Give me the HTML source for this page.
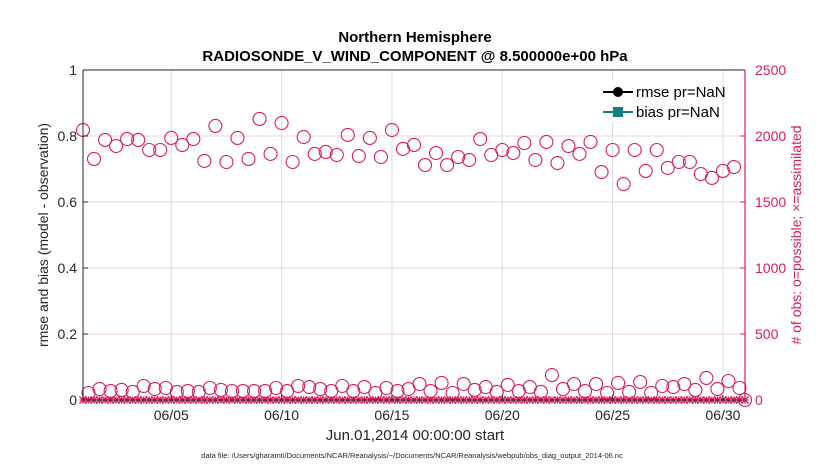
<!DOCTYPE html>
<html><head><meta charset="utf-8"><style>
body{margin:0;background:#fff;}
svg{font-family:"Liberation Sans",sans-serif;}
</style></head><body>
<svg id="c" width="830" height="470" xmlns="http://www.w3.org/2000/svg">
<rect width="830" height="470" fill="#fff"/>
<text x="415" y="42" text-anchor="middle" font-size="15" font-weight="bold">Northern Hemisphere</text>
<text x="415" y="61" text-anchor="middle" font-size="15" font-weight="bold">RADIOSONDE_V_WIND_COMPONENT @ 8.500000e+00 hPa</text>
<g id="grid"></g>
<g id="marks"></g>
<g id="axes"></g>
<text x="415" y="440" text-anchor="middle" font-size="15" fill="#262626">Jun.01,2014 00:00:00 start</text>
<text x="412" y="458" text-anchor="middle" font-size="7.5" fill="#262626">data file: /Users/gharamti/Documents/NCAR/Reanalysis/~/Documents/NCAR/Reanalysis/webpub/obs_diag_output_2014-06.nc</text>
<text transform="translate(48,235) rotate(-90)" text-anchor="middle" font-size="14" fill="#262626">rmse and bias (model - observation)</text>
<text transform="translate(801,235) rotate(-90)" text-anchor="middle" font-size="14" fill="#d81b60"># of obs: o=possible; ×=assimilated</text>
<g>
<rect x="598" y="80" width="110" height="42" fill="#fff"/>
<line x1="603" y1="92" x2="633" y2="92" stroke="#000" stroke-width="2"/>
<circle cx="618" cy="92" r="5" fill="#000"/>
<text x="636" y="97" font-size="15">rmse pr=NaN</text>
<line x1="603" y1="112" x2="633" y2="112" stroke="#128080" stroke-width="2"/>
<rect x="613" y="107" width="10" height="10" fill="#128080"/>
<text x="636" y="117" font-size="15">bias pr=NaN</text>
</g>
</svg>
<script>
const upperPossible=[2045,1826,1970,1924,1977,1970,1894,1894,1985,1932,1977,1811,2076,1803,1985,1826,2129,1864,2098,1803,1992,1864,1879,1856,2008,1848,1985,1841,2045,1902,1932,1780,1871,1780,1841,1818,1977,1856,1894,1871,1947,1818,1955,1795,1924,1864,1955,1727,1894,1636,1894,1735,1894,1758,1803,1803,1712,1682,1735,1765];
const lowerPossible=[53,83,68,76,61,106,83,91,61,68,61,91,76,68,68,68,68,91,68,106,98,83,68,106,68,98,53,91,68,83,121,68,129,53,121,76,98,61,114,68,98,61,189,83,121,68,121,53,129,61,136,53,106,98,121,76,167,83,144,91];
const xTickDays=[4,9,14,19,24,29];
const xTickLabels=["06/05","06/10","06/15","06/20","06/25","06/30"];
const leftTicks=[0,0.2,0.4,0.6,0.8,1];
const leftTickLabels=["0","0.2","0.4","0.6","0.8","1"];
const rightTicks=[0,500,1000,1500,2000,2500];
const stepDays=0.5, upperStart=0, lowerStart=0.25;

const NS="http://www.w3.org/2000/svg";
const L=83,R=745,T=70,B=400,XMAX=30;
const xs=d=>L+(d/XMAX)*(R-L);
const yl=v=>B-v*(B-T);
const yr=v=>B-(v/2500)*(B-T);
const MAG="#d81b60";
function mk(tag,attrs,parent){const e=document.createElementNS(NS,tag);for(const k in attrs)e.setAttribute(k,attrs[k]);parent.appendChild(e);return e;}
const grid=document.getElementById('grid'),marks=document.getElementById('marks'),axes=document.getElementById('axes');
xTickDays.forEach((d,i)=>{
  const l=mk('line',{x1:xs(d),x2:xs(d),y1:T,y2:B,stroke:'#dcdcdc','stroke-width':1},grid);
  
  
  const t=mk('text',{x:xs(d),y:B+20,'text-anchor':'middle','font-size':14,fill:'#262626'},axes);
  t.textContent=xTickLabels[i];
  
  
  mk('line',{x1:xs(d),x2:xs(d),y1:B,y2:B-5,stroke:'#262626'},axes);
});
leftTicks.forEach((v,i)=>{
  if(v>0&&v<1){const g=mk('line',{x1:L,x2:R,y1:yl(v),y2:yl(v),stroke:'#f2d0dc','stroke-width':1},grid);
  
  }
  const t=mk('text',{x:L-6,y:yl(v)+5,'text-anchor':'end','font-size':14,fill:'#262626'},axes);
  t.textContent=leftTickLabels[i];
  
  
  mk('line',{x1:L,x2:L+5,y1:yl(v),y2:yl(v),stroke:'#262626'},axes);
});
rightTicks.forEach(v=>{
  const t=mk('text',{x:R+10,y:yr(v)+5,'font-size':14,fill:MAG},axes);
  t.textContent=String(v);
  
  
  mk('line',{x1:R-5,x2:R,y1:yr(v),y2:yr(v),stroke:MAG},axes);
});
mk('line',{x1:L,x2:L,y1:T,y2:B,stroke:'#262626'},axes);
mk('line',{x1:L,x2:R,y1:T,y2:T,stroke:'#262626'},axes);
mk('line',{x1:L,x2:R,y1:B,y2:B,stroke:'#262626'},axes);
mk('line',{x1:R,x2:R,y1:T,y2:B,stroke:MAG,'stroke-width':1.2},axes);
function drawX(x){
  const s=3.5;
  const p=mk('path',{d:`M${x-s},${B-s}L${x+s},${B+s}M${x-s},${B+s}L${x+s},${B-s}M${x},${B-s}L${x},${B+s}M${x-s},${B}L${x+s},${B}`,stroke:MAG,'stroke-width':1.3,fill:'none'},marks);
  
  
}
function drawSeries(arr,start,name){
  arr.forEach((v,i)=>{
    const d=start+i*stepDays;
    const c=mk('circle',{cx:xs(d),cy:yr(v),r:6.5,fill:'none',stroke:MAG,'stroke-width':1.1},marks);
    
    
    drawX(xs(d));
  });
}
drawSeries(upperPossible,upperStart,'possible-obs-upper');
drawSeries(lowerPossible,lowerStart,'possible-obs-lower');
const last=mk('circle',{cx:xs(XMAX),cy:yr(0),r:6.5,fill:'none',stroke:MAG,'stroke-width':1.1},marks);


drawX(xs(XMAX));
</script>
</body></html>
